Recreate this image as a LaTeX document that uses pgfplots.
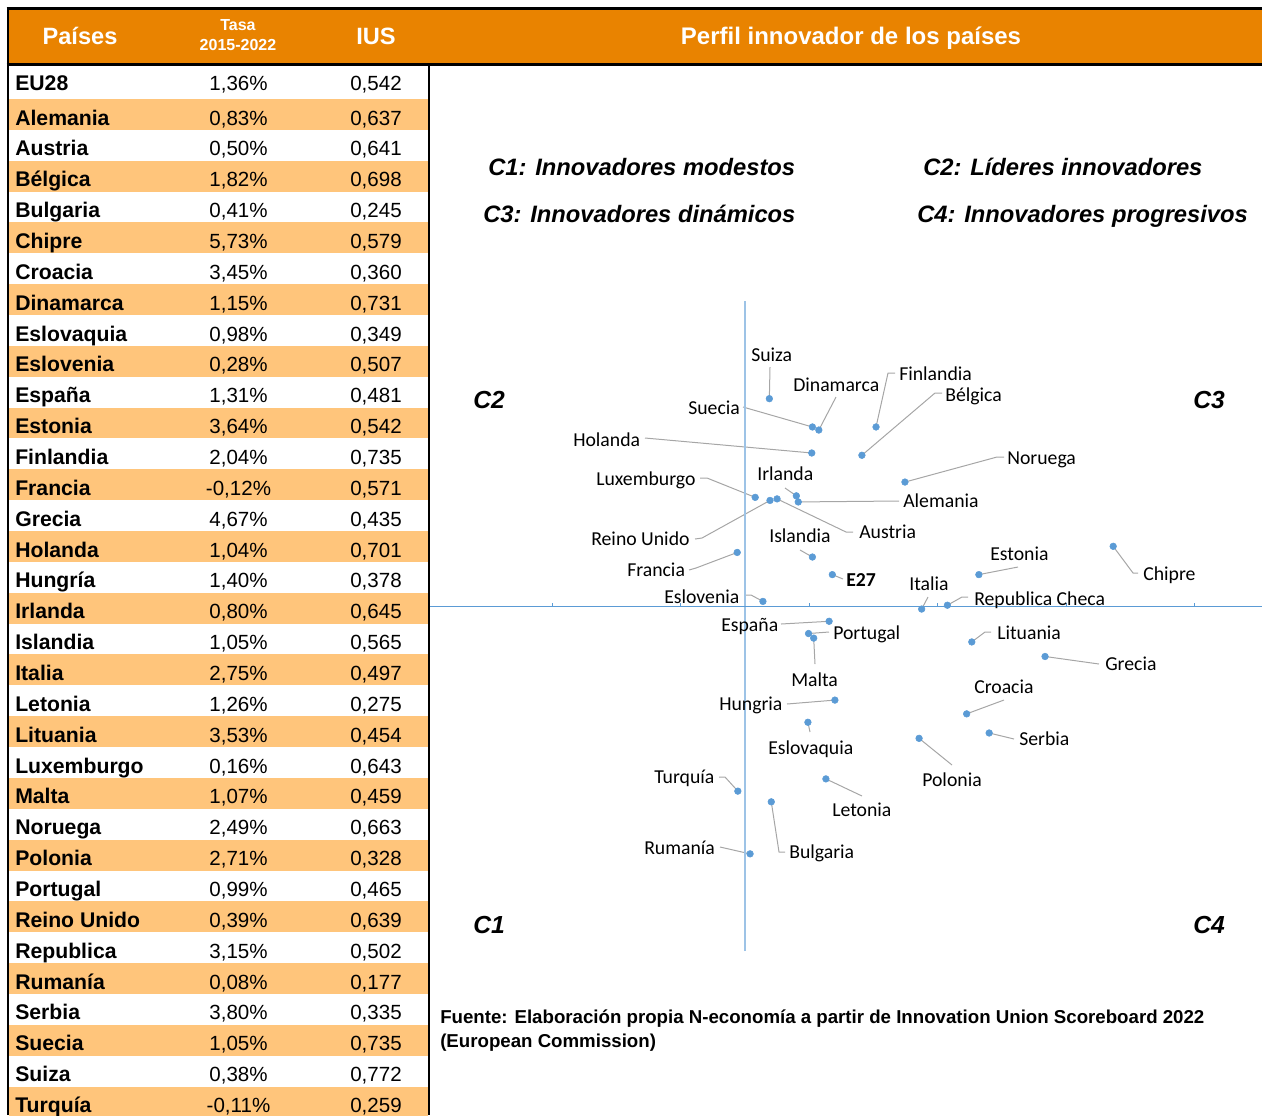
\documentclass[border=0pt]{standalone}
\usepackage{fontspec}
\setmainfont{Liberation Sans}
\newfontfamily\calfont{Carlito}
\usepackage{pgfplots}
\usepackage{pgfplotstable}
\pgfplotsset{compat=1.18}
\pgfdeclarelayer{background}
\pgfsetlayers{background,main}
\definecolor{hdr}{HTML}{E98300}
\definecolor{rowc}{HTML}{FFC57B}
\definecolor{dot}{HTML}{5B9BD5}
\definecolor{vax}{HTML}{9DC3E6}
\definecolor{lead}{HTML}{A6A6A6}
\newcommand\tbfont{\fontsize{15.4}{18}\selectfont}
\newcommand\nmfont{\fontsize{15.9}{18}\selectfont\bfseries}
\newcommand\labfont{\calfont\fontsize{14.8}{17}\selectfont}
\newcommand\qfont{\fontsize{17.8}{22}\selectfont\bfseries\itshape}

\pgfplotstableread{
id name tasa ius
EU EU28 1.36 0.542
DE Alemania 0.83 0.637
AT Austria 0.50 0.641
BE Bélgica 1.82 0.698
BG Bulgaria 0.41 0.245
CY Chipre 5.73 0.579
HR Croacia 3.45 0.360
DK Dinamarca 1.15 0.731
SK Eslovaquia 0.98 0.349
SI Eslovenia 0.28 0.507
ES España 1.31 0.481
EE Estonia 3.64 0.542
FI Finlandia 2.04 0.735
FR Francia -0.12 0.571
GR Grecia 4.67 0.435
NL Holanda 1.04 0.701
HU Hungría 1.40 0.378
IE Irlanda 0.80 0.645
IS Islandia 1.05 0.565
IT Italia 2.75 0.497
LV Letonia 1.26 0.275
LT Lituania 3.53 0.454
LU Luxemburgo 0.16 0.643
MT Malta 1.07 0.459
NO Noruega 2.49 0.663
PL Polonia 2.71 0.328
PT Portugal 0.99 0.465
UK {Reino Unido} 0.39 0.639
CZ Republica 3.15 0.502
RO Rumanía 0.08 0.177
RS Serbia 3.80 0.335
SE Suecia 1.05 0.735
CH Suiza 0.38 0.772
TR Turquía -0.11 0.259
}\data

\begin{document}
\begin{tikzpicture}[px/.style={x=0.75pt,y=-0.75pt}]
\useasboundingbox (0,0) rectangle (946.5pt,-836.25pt);
\begin{scope}[px]
% header band
\fill[hdr] (8,9) rectangle (1262,64);
\foreach \i in {1,3,...,33} \fill[rowc] (9,{99+30.86*(\i-1)}) rectangle (428,{129.86+30.86*(\i-1)});
\draw[line width=2.25pt] (6.5,8.7)--(1262,8.7);
\draw[line width=2.25pt] (6.5,64.5)--(1262,64.5);
\draw[line width=1.5pt] (8,7.5)--(8,1115);
\draw[line width=1.5pt] (429,64)--(429,1115);
% header texts
\node[anchor=base, inner sep=0, text=white, font=\fontsize{17.7}{20}\selectfont\bfseries] at (80,44) {Países};
\node[anchor=base, inner sep=0, text=white, font=\fontsize{12}{14}\selectfont\bfseries] at (238,30.7) {Tasa};
\node[anchor=base, inner sep=0, text=white, font=\fontsize{12}{14}\selectfont\bfseries] at (238,50.7) {2015-2022};
\node[anchor=base, inner sep=0, text=white, font=\fontsize{17.7}{20}\selectfont\bfseries] at (376,44) {IUS};
\node[anchor=base, inner sep=0, text=white, font=\fontsize{18}{20}\selectfont\bfseries] at (851,44.5) {Perfil innovador de los países};
% table body
\foreach \i in {0,...,33}{
  \pgfplotstablegetelem{\i}{name}\of\data \let\nm\pgfplotsretval
  \pgfplotstablegetelem{\i}{tasa}\of\data \let\tx\pgfplotsretval
  \pgfplotstablegetelem{\i}{ius}\of\data \let\ty\pgfplotsretval
  \pgfmathsetmacro\by{\i==0 ? 90.7 : 125+30.86*(\i-1)}
  \node[anchor=base west, inner sep=0, font=\nmfont] at (15,\by) {\nm};
  \node[anchor=base, inner sep=0, font=\tbfont] at (238.5,\by) {\pgfmathprintnumber[fixed,fixed zerofill,precision=2,use comma,assume math mode=true]{\tx}\%};
  \node[anchor=base, inner sep=0, font=\tbfont] at (376,\by) {\pgfmathprintnumber[fixed,fixed zerofill,precision=3,use comma,assume math mode=true]{\ty}};
}
% quadrant texts
\begin{scope}[every node/.style={anchor=base west, inner sep=0, font=\qfont}]
\node at (488,175.5) {C1: Innovadores modestos};
\node at (923,175.5) {C2: Líderes innovadores};
\node at (483,222.5) {C3: Innovadores dinámicos};
\node at (917,222.5) {C4: Innovadores progresivos};
\node[font=\fontsize{18.5}{22}\selectfont\bfseries\itshape] at (473,408) {C2};
\node[font=\fontsize{18.5}{22}\selectfont\bfseries\itshape] at (1193,408) {C3};
\node[font=\fontsize{18.5}{22}\selectfont\bfseries\itshape] at (473,933) {C1};
\node[font=\fontsize{18.5}{22}\selectfont\bfseries\itshape] at (1193,933) {C4};
\end{scope}
\node[anchor=base west, inner sep=0, font=\fontsize{14}{16}\selectfont\bfseries] at (440,1023.5) {Fuente: Elaboración propia N-economía a partir de Innovation Union Scoreboard 2022};
\node[anchor=base west, inner sep=0, font=\fontsize{14}{16}\selectfont\bfseries] at (440,1047.5) {(European Commission)};
\end{scope}

\begin{axis}[at={(322.5pt,-713.25pt)}, anchor=south west,
  width=624.2pt, height=487.7pt, scale only axis,
  xmin=-4.9, xmax=8.05, ymin=0.05, ymax=0.9,
  hide axis, clip=false]
\draw[vax, line width=1.3pt] (axis cs:0,0.05) -- (axis cs:0,0.9);
\draw[dot, line width=1pt] (axis cs:-4.9,0.5) -- (axis cs:8.05,0.5);
\pgfplotsinvokeforeach{-3,-1,1,3,5,7}{\draw[dot, line width=0.75pt] (axis cs:#1,0.5) -- (axis cs:#1,0.5052);}
\addplot[only marks, mark=*, mark size=2.5pt, mark options={draw=dot, fill=dot}] table[x=tasa, y=ius]{\data};
\pgfplotsforeachungrouped \i in {0,...,33}{
  \pgfplotstablegetelem{\i}{tasa}\of\data \let\tx\pgfplotsretval
  \pgfplotstablegetelem{\i}{ius}\of\data \let\ty\pgfplotsretval
  \pgfplotstablegetelem{\i}{id}\of\data \let\tk\pgfplotsretval
  \edef\temp{\noexpand\coordinate (p\tk) at (axis cs:\tx,\ty);}
  \temp
}
\end{axis}

\begin{pgfonlayer}{background}
\begin{scope}[px, lead, line width=0.75pt]
\draw (770,367) -- (pCH);
\draw (836,397) -- (pDK);
\draw (895,373) -- (888,373) -- (pFI);
\draw (942,393) -- (935,393) -- (pBE);
\draw (743,407) -- (pSE);
\draw (645,438) -- (pNL);
\draw (1004,457) -- (997,457) -- (pNO);
\draw (785,488) -- (pIE);
\draw (700,478) -- (707,478) -- (pLU);
\draw (899,501) -- (pDE);
\draw (695,539) -- (702,538) -- (pUK);
\draw (853,532) -- (846,532) -- (pAT);
\draw (800,550) -- (pIS);
\draw (689,570) -- (696,568) -- (pFR);
\draw (843,579) -- (pEU);
\draw (1018,567) -- (pEE);
\draw (1138,573) -- (1133,573) -- (pCY);
\draw (928,597) -- (pIT);
\draw (968,597) -- (962,597) -- (pCZ);
\draw (745,595) -- (751,595) -- (pSI);
\draw (781,624) -- (pES);
\draw (829,632) -- (pPT);
\draw (815,664) -- (pMT);
\draw (787,704) -- (pHU);
\draw (810,732) -- (pSK);
\draw (991,632) -- (985,632) -- (pLT);
\draw (1099,664) -- (pGR);
\draw (1004,700) -- (pHR);
\draw (1014,739) -- (pRS);
\draw (952,765) -- (pPL);
\draw (862,796) -- (pLV);
\draw (719,777) -- (725,777) -- (pTR);
\draw (785,852) -- (779,852) -- (pBG);
\draw (720,847) -- (pRO);
\end{scope}
\end{pgfonlayer}

\begin{scope}[px, every node/.style={anchor=base west, inner sep=0, font=\labfont}]
\node at (751,361.5) {Suiza};
\node at (793,391.7) {Dinamarca};
\node at (899,380.7) {Finlandia};
\node at (945,401.7) {Bélgica};
\node at (688,414) {Suecia};
\node at (573,446.7) {Holanda};
\node at (1007,464) {Noruega};
\node at (757,480.7) {Irlanda};
\node at (596,485.7) {Luxemburgo};
\node at (903,507.7) {Alemania};
\node at (859,538.3) {Austria};
\node at (591,545) {Reino Unido};
\node at (769,542.3) {Islandia};
\node at (990,560) {Estonia};
\node at (627,576) {Francia};
\node at (1143,580.7) {Chipre};
\node[font=\labfont\bfseries] at (846,586) {E27};
\node at (909,590) {Italia};
\node at (664,603.3) {Eslovenia};
\node at (974,605) {Republica Checa};
\node at (721,631.7) {España};
\node at (833,639) {Portugal};
\node at (997,639) {Lituania};
\node at (1105,670.7) {Grecia};
\node at (791,686) {Malta};
\node at (974,693.3) {Croacia};
\node at (719,710.7) {Hungria};
\node at (1019,745) {Serbia};
\node at (768,754) {Eslovaquia};
\node at (654,783.3) {Turquía};
\node at (922,786.7) {Polonia};
\node at (832,816.7) {Letonia};
\node at (644,854) {Rumanía};
\node at (789,858.3) {Bulgaria};
\end{scope}
\end{tikzpicture}
\end{document}
